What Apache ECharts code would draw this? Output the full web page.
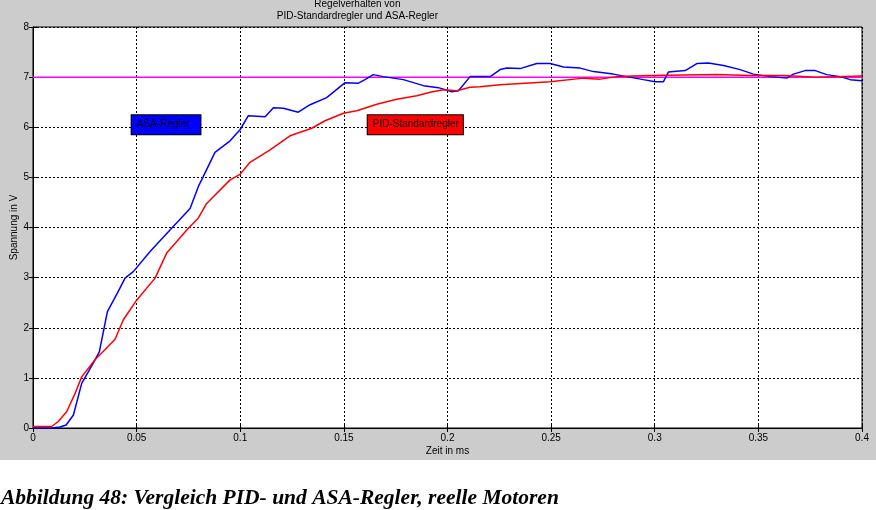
<!DOCTYPE html>
<html>
<head>
<meta charset="utf-8">
<script src="https://cdn.jsdelivr.net/npm/echarts@6/dist/echarts.min.js"></script>
<style>
html,body{margin:0;padding:0;background:#fff;}
#chart{width:876px;height:510px;}
</style>
</head>
<body>
<div id="chart"></div>
<script>
// ---- data ----
var xTicks = [0, 0.05, 0.1, 0.15, 0.2, 0.25, 0.3, 0.35, 0.4];
var setpointT = [0, 0.4];
var setpointV = [7, 7];

var asaT = [0, 0.009, 0.013, 0.016, 0.0195, 0.0235, 0.029, 0.032, 0.0359, 0.0407, 0.0444, 0.0484, 0.0565, 0.0661, 0.0758, 0.0798, 0.0822, 0.0878, 0.0951, 0.0999, 0.1039, 0.112, 0.116, 0.1208, 0.128, 0.1337, 0.1417, 0.1506, 0.157, 0.1602, 0.1642, 0.169, 0.1787, 0.1884, 0.1956, 0.2021, 0.2053, 0.2109, 0.2206, 0.2254, 0.2286, 0.235, 0.2431, 0.2495, 0.256, 0.264, 0.2704, 0.28, 0.2865, 0.2945, 0.3002, 0.3042, 0.3066, 0.3147, 0.3203, 0.3259, 0.3332, 0.3412, 0.3476, 0.3557, 0.3637, 0.3669, 0.3726, 0.3774, 0.383, 0.3895, 0.3943, 0.4];
var asaV = [0, 0, 0.02, 0.06, 0.26, 0.89, 1.29, 1.52, 2.32, 2.69, 2.99, 3.12, 3.52, 3.95, 4.38, 4.82, 5.02, 5.50, 5.73, 5.95, 6.23, 6.21, 6.39, 6.38, 6.30, 6.45, 6.59, 6.89, 6.88, 6.95, 7.05, 7.01, 6.95, 6.83, 6.79, 6.71, 6.73, 7.01, 7.01, 7.15, 7.18, 7.17, 7.27, 7.27, 7.20, 7.18, 7.11, 7.06, 7.01, 6.95, 6.91, 6.91, 7.10, 7.13, 7.27, 7.28, 7.23, 7.15, 7.06, 7.01, 6.98, 7.06, 7.13, 7.13, 7.05, 7.01, 6.95, 6.93];

var pidT = [0, 0.009, 0.0122, 0.0163, 0.0203, 0.0235, 0.0299, 0.0347, 0.0396, 0.0436, 0.05, 0.0589, 0.0645, 0.0742, 0.0798, 0.0838, 0.0951, 0.0999, 0.1047, 0.1144, 0.124, 0.1345, 0.1409, 0.1498, 0.1562, 0.1659, 0.1755, 0.1852, 0.1916, 0.198, 0.2045, 0.2109, 0.2157, 0.2254, 0.2495, 0.2656, 0.2737, 0.2817, 0.2978, 0.33, 0.346, 0.3621, 0.378, 0.4];
var pidV = [0.03, 0.03, 0.13, 0.33, 0.69, 1.02, 1.36, 1.56, 1.77, 2.16, 2.55, 2.99, 3.49, 3.95, 4.19, 4.48, 4.95, 5.06, 5.30, 5.55, 5.83, 5.98, 6.13, 6.28, 6.33, 6.46, 6.56, 6.63, 6.70, 6.75, 6.73, 6.80, 6.81, 6.85, 6.91, 6.98, 6.96, 7.01, 7.03, 7.05, 7.03, 7.03, 7.00, 7.02];

var labelTexts = ['ASA-Regler', 'PID-Standardregler'];
var labelT = [0.0476, 0.1615];
var labelV = [6.05, 6.05];

function pairs(t, v) { return t.map(function (x, i) { return [x, v[i]]; }); }

var chart = echarts.init(document.getElementById('chart'), null, {renderer: 'canvas'});
var dotted = {color: '#000', width: 1, type: [2, 2]};
var lbl = {color: '#000', fontFamily: 'Liberation Sans, Arial, sans-serif', fontSize: 10};

var option = {
  backgroundColor: '#ffffff',
  animation: false,
  graphic: [{
    type: 'rect', z: -10, silent: true,
    shape: {x: 0, y: 0, width: 876, height: 460},
    style: {fill: '#cccccc'}
  }],
  title: [{
    text: 'Regelverhalten von\nPID-Standardregler und ASA-Regler',
    left: 'center', top: -2, padding: 0,
    textStyle: {fontFamily: 'Liberation Sans, Arial, sans-serif', fontSize: 10, fontWeight: 'normal', color: '#000', lineHeight: 12},
    textAlign: 'center'
  }, {
    text: 'Abbildung 48: Vergleich PID- und ASA-Regler, reelle Motoren',
    left: 1, top: 487, padding: 0,
    textStyle: {fontFamily: 'Liberation Serif, serif', fontSize: 21.5, fontWeight: 'bold', fontStyle: 'italic', color: '#000'}
  }],
  grid: {left: 33, right: 14, top: 27, bottom: 82, containLabel: false, outerBoundsMode: 'none',
         show: true, backgroundColor: '#ffffff', borderColor: '#000', borderWidth: 1},
  xAxis: [{
    type: 'value', min: 0, max: 0.4, interval: 0.05,
    name: 'Zeit in ms', nameLocation: 'middle', nameGap: 18, nameMoveOverlap: false,
    nameTextStyle: lbl,
    axisLine: {show: true, lineStyle: {color: '#000'}},
    axisTick: {show: true, inside: true, length: 4, lineStyle: {color: '#000'}},
    axisLabel: Object.assign({margin: 5}, lbl),
    splitLine: {show: true, lineStyle: dotted}
  }, {
    type: 'value', min: 0, max: 0.4, interval: 0.05, position: 'top',
    axisLine: {show: true, lineStyle: {color: '#000'}},
    axisTick: {show: true, inside: true, length: 4, lineStyle: {color: '#000'}},
    axisLabel: {show: false}, splitLine: {show: false}
  }],
  yAxis: [{
    type: 'value', min: 0, max: 8, interval: 1,
    name: 'Spannung in V', nameLocation: 'middle', nameGap: 14, nameRotate: 90, nameMoveOverlap: false,
    nameTextStyle: lbl,
    axisLine: {show: true, lineStyle: {color: '#000'}},
    axisTick: {show: true, inside: true, length: 4, lineStyle: {color: '#000'}},
    axisLabel: Object.assign({margin: 4}, lbl),
    splitLine: {show: true, lineStyle: dotted}
  }, {
    type: 'value', min: 0, max: 8, interval: 1, position: 'right',
    axisLine: {show: true, lineStyle: {color: '#000'}},
    axisTick: {show: true, inside: true, length: 4, lineStyle: {color: '#000'}},
    axisLabel: {show: false}, splitLine: {show: false}
  }],
  series: [{
    type: 'line', name: 'Sollwert', data: pairs(setpointT, setpointV),
    showSymbol: false, lineStyle: {color: '#ff00ff', width: 1.5}, z: 2
  }, {
    type: 'line', name: 'ASA-Regler', data: pairs(asaT, asaV),
    showSymbol: false, lineStyle: {color: '#0000ff', width: 1.5}, z: 3
  }, {
    type: 'line', name: 'PID-Standardregler', data: pairs(pidT, pidV),
    showSymbol: false, lineStyle: {color: '#ff0000', width: 1.5}, z: 4
  }, {
    type: 'scatter', name: 'labels', symbolSize: 0, z: 10,
    itemStyle: {opacity: 1},
    data: labelT.map(function (t, i) {
      var isAsa = i === 0;
      return {
        value: [t, labelV[i]],
        itemStyle: {opacity: 1},
        label: {
          show: true, position: 'right', distance: 0, opacity: 1,
          formatter: labelTexts[i],
          color: '#000', fontFamily: 'Liberation Sans, Arial, sans-serif', fontSize: 10, lineHeight: 11,
          backgroundColor: isAsa ? '#0000ff' : '#ff0000',
          borderColor: '#000', borderWidth: 1,
          padding: isAsa ? [4, 11, 4, 5] : [4, 4, 4, 5]
        }
      };
    })
  }]
};
chart.setOption(option);
</script>
</body>
</html>
